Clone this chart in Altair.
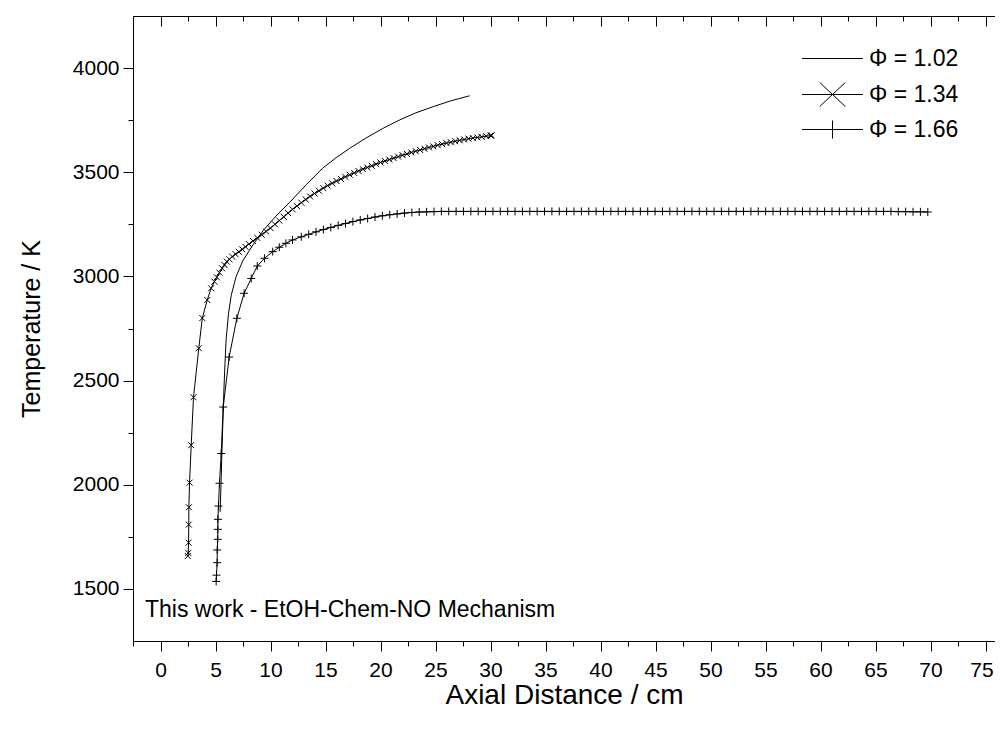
import altair as alt
import pandas as pd

FONT = "Liberation Sans"

series_names = ["Φ = 1.02", "Φ = 1.34", "Φ = 1.66"]

phi102_x = [5.42, 5.50, 5.58, 5.67, 5.76, 5.86, 5.97, 6.18, 6.43, 6.88, 7.48, 8.39, 9.30,
            10.50, 11.73, 13.25, 14.75, 15.97, 17.20, 18.70, 20.20, 21.70, 23.20, 24.80,
            26.40, 28.10]
phi102_t = [1870, 2000, 2150, 2300, 2450, 2580, 2700, 2820, 2910, 3000, 3075, 3150, 3218,
            3290, 3355, 3440, 3520, 3570, 3615, 3665, 3710, 3750, 3785, 3815, 3843, 3867]

phi134_x = [2.48, 2.52, 2.55, 2.57, 2.58, 2.64, 2.79, 3.00, 3.48, 3.80, 4.25, 4.60, 4.90,
            5.12, 5.36, 5.60, 5.82, 6.03, 6.27, 6.52, 6.82, 7.12, 7.43, 7.73, 8.03,
            8.4, 8.8, 9.2, 9.6, 10.0, 10.4, 10.8, 11.2, 11.6, 12.0, 12.4, 12.8, 13.2, 13.6,
            14.0, 14.4, 14.8, 15.2, 15.6, 16.0, 16.4, 16.8, 17.2, 17.6, 18.0, 18.4, 18.8,
            19.2, 19.6, 20.0, 20.4, 20.8, 21.2, 21.6, 22.0, 22.4, 22.8, 23.2, 23.6, 24.0,
            24.4, 24.8, 25.2, 25.6, 26.0, 26.4, 26.8, 27.2, 27.6, 28.0, 28.4, 28.8, 29.2,
            29.6, 30.0, 30.1]
phi134_t = [1658, 1673, 1722, 1809, 1892, 2010, 2190, 2420, 2655, 2800, 2887, 2943, 2975,
            2996, 3018, 3039, 3055, 3071, 3082, 3095, 3107, 3118, 3130, 3142, 3155,
            3170, 3185, 3200, 3216, 3232, 3250, 3268, 3286, 3304, 3322, 3338, 3354, 3369, 3384,
            3398, 3411, 3424, 3436, 3447, 3458, 3468, 3478, 3488, 3497, 3506, 3515, 3523,
            3531, 3539, 3547, 3554, 3561, 3568, 3575, 3582, 3588, 3595, 3601, 3607, 3613,
            3619, 3624, 3630, 3635, 3640, 3644, 3649, 3653, 3657, 3661, 3664, 3667, 3670,
            3673, 3676, 3677]

phi166_x = [5.06, 5.09, 5.15, 5.16, 5.20, 5.21, 5.22, 5.27, 5.36, 5.52, 5.70, 6.24, 6.94,
            7.60, 8.25, 8.80, 9.45, 10.20, 10.80, 11.40, 12.00,
            12.80, 13.47, 14.14, 14.81, 15.48, 16.15, 16.82, 17.49, 18.16, 18.83,
            19.50, 20.17, 20.84, 21.51, 22.18, 22.85, 23.52, 24.19, 24.86, 25.53,
            26.20, 26.87, 27.54, 28.21, 28.88, 29.55, 30.22, 30.89, 31.56, 32.23,
            32.90, 33.57, 34.24, 34.91, 35.58, 36.25, 36.92, 37.59, 38.26, 38.93,
            39.60, 40.27, 40.94, 41.61, 42.28, 42.95, 43.62, 44.29, 44.96, 45.63,
            46.30, 46.97, 47.64, 48.31, 48.98, 49.65, 50.32, 50.99, 51.66, 52.33,
            53.00, 53.67, 54.34, 55.01, 55.68, 56.35, 57.02, 57.69, 58.36, 59.03,
            59.70, 60.37, 61.04, 61.71, 62.38, 63.05, 63.72, 64.39, 65.06, 65.73,
            66.40, 67.07, 67.74, 68.41, 69.08, 69.75]
phi166_t = [1536, 1566, 1626, 1687, 1738, 1786, 1834, 1898, 2007, 2150, 2373, 2613, 2799,
            2919, 2990, 3050, 3087, 3119, 3140, 3159, 3175,
            3190, 3202, 3214, 3225, 3235, 3245, 3254, 3263, 3271, 3278,
            3285, 3291, 3296, 3300, 3304, 3307, 3309, 3310, 3311, 3312,
            3312, 3312, 3312, 3312, 3312, 3312, 3312, 3312, 3312, 3312,
            3312, 3312, 3312, 3312, 3312, 3312, 3312, 3312, 3312, 3312,
            3312, 3312, 3312, 3312, 3312, 3312, 3312, 3312, 3312, 3312,
            3312, 3312, 3312, 3312, 3312, 3312, 3312, 3312, 3312, 3312,
            3312, 3312, 3312, 3312, 3312, 3312, 3312, 3312, 3312, 3312,
            3312, 3312, 3312, 3312, 3312, 3312, 3312, 3312, 3312, 3312,
            3312, 3311, 3311, 3310, 3310, 3309]

x_major = [0, 5, 10, 15, 20, 25, 30, 35, 40, 45, 50, 55, 60, 65, 70, 75]
x_minor = [-2.5, 2.5, 7.5, 12.5, 17.5, 22.5, 27.5, 32.5, 37.5, 42.5, 47.5, 52.5,
           57.5, 62.5, 67.5, 72.5]
y_major = [1500, 2000, 2500, 3000, 3500, 4000]
y_minor = [1750, 2250, 2750, 3250, 3750]

x_title = "Axial Distance / cm"
y_title = "Temperature / K"
annotation = ["This work - EtOH-Chem-NO Mechanism"]

legend_paths = [
    "M-3.05,0L3.05,0",
    "M-3.05,0L3.05,0M-1.28,-1.2L1.28,1.2M-1.28,1.2L1.28,-1.2",
    "M-3.05,0L3.05,0M0,-0.9L0,0.9M-1.2,0L1.2,0",
]
cross_path = "M-1,-1L1,1M-1,1L1,-1"
plus_path = "M-1,0L1,0M0,-1L0,1"

rows = []
for name, xs_, ts_ in zip(series_names, [phi102_x, phi134_x, phi166_x],
                          [phi102_t, phi134_t, phi166_t]):
    for i, (a, b) in enumerate(zip(xs_, ts_)):
        rows.append({"series": name, "x": a, "T": b, "i": i})
df = pd.DataFrame(rows)

xscale = alt.Scale(domain=[-2.5, 75.86], nice=False, zero=False)
yscale = alt.Scale(domain=[1250, 4250], nice=False, zero=False)

ax_bottom_major = alt.Axis(orient="bottom", values=x_major, tickSize=10, labelPadding=8,
                           labelFontSize=21, title=x_title, titleFontSize=28,
                           titleFontWeight="normal", titlePadding=1, labelOverlap=False,
                           labelFlush=False, grid=False, format="d",
                           labelOffset={"condition": {"test": "datum.value >= 75", "value": -4},
                                        "value": 0})
ax_bottom_minor = alt.Axis(orient="bottom", values=x_minor, tickSize=5, labels=False,
                           domain=False, title=None, grid=False)
ax_top_major = alt.Axis(orient="top", values=x_major, tickSize=alt.ExprRef(expr="-10"),
                        labels=False, domain=True, title=None, grid=False)
ax_top_minor = alt.Axis(orient="top", values=x_minor, tickSize=alt.ExprRef(expr="-5"),
                        labels=False, domain=False, title=None, grid=False)
ax_left_major = alt.Axis(orient="left", values=y_major, tickSize=10, labelPadding=4,
                         labelFontSize=21, title=y_title, titleFontSize=25,
                         titleFontWeight="normal", titlePadding=28, labelOverlap=False,
                         labelFlush=False, grid=False, format="d")
ax_left_minor = alt.Axis(orient="left", values=y_minor, tickSize=5, labels=False,
                         domain=False, title=None, grid=False)

base = alt.Chart(df)


def line_layer(name, xaxis, yaxis):
    return base.transform_filter(alt.datum.series == name).mark_line(
        color="black", strokeWidth=1
    ).encode(
        x=alt.X("x:Q", scale=xscale, axis=xaxis),
        y=alt.Y("T:Q", scale=yscale, axis=yaxis),
        order=alt.Order("i:Q"),
    )


l102 = line_layer(series_names[0], ax_bottom_major, ax_left_major)
l134 = line_layer(series_names[1], ax_bottom_minor, ax_left_minor)
l166 = line_layer(series_names[2], ax_top_major, None)

p134 = base.transform_filter(alt.datum.series == series_names[1]).mark_point(
    shape=cross_path, size=36, filled=False, color="black", strokeWidth=1, opacity=1
).encode(
    x=alt.X("x:Q", scale=xscale, axis=ax_top_minor),
    y=alt.Y("T:Q", scale=yscale, axis=None),
)

p166 = base.transform_filter(alt.datum.series == series_names[2]).mark_point(
    shape=plus_path, size=64, filled=False, color="black", strokeWidth=1, opacity=1
).encode(
    x=alt.X("x:Q", scale=xscale, axis=None),
    y=alt.Y("T:Q", scale=yscale, axis=None),
)

legend_layer = base.transform_filter("datum.T < 0").mark_point(
    filled=False, color="black", strokeWidth=1, size=400, opacity=1
).encode(
    shape=alt.Shape(
        "series:N",
        scale=alt.Scale(domain=series_names, range=legend_paths),
        legend=alt.Legend(
            orient="none", legendX=688, legendY=31, title=None,
            labelFontSize=23, labelFont=FONT, labelColor="black", labelOffset=25,
            symbolSize=400, symbolStrokeWidth=1, symbolStrokeColor="black",
            symbolFillColor="transparent", symbolOpacity=1, rowPadding=9, padding=0,
        ),
    )
)

text_layer = alt.Chart(pd.DataFrame({"label": annotation})).mark_text(
    align="left", baseline="alphabetic", fontSize=23, font=FONT, color="black"
).encode(
    x=alt.value(12), y=alt.value(601), text="label:N"
)

chart = alt.layer(
    l102, l134, l166, p134, p166, legend_layer, text_layer
).resolve_axis(
    x="independent", y="independent"
).properties(
    width=862, height=625,
    padding={"left": 125, "top": 8, "right": 0, "bottom": 80},
    autosize=alt.AutoSizeParams(type="none"),
).configure_view(
    stroke=None
).configure_axis(
    grid=False, domainColor="black", tickColor="black", labelColor="black",
    titleColor="black", labelFont=FONT, titleFont=FONT, domainWidth=1, tickWidth=1,
)

chart.save("out.html", embed_options={"renderer": "svg", "actions": False})
